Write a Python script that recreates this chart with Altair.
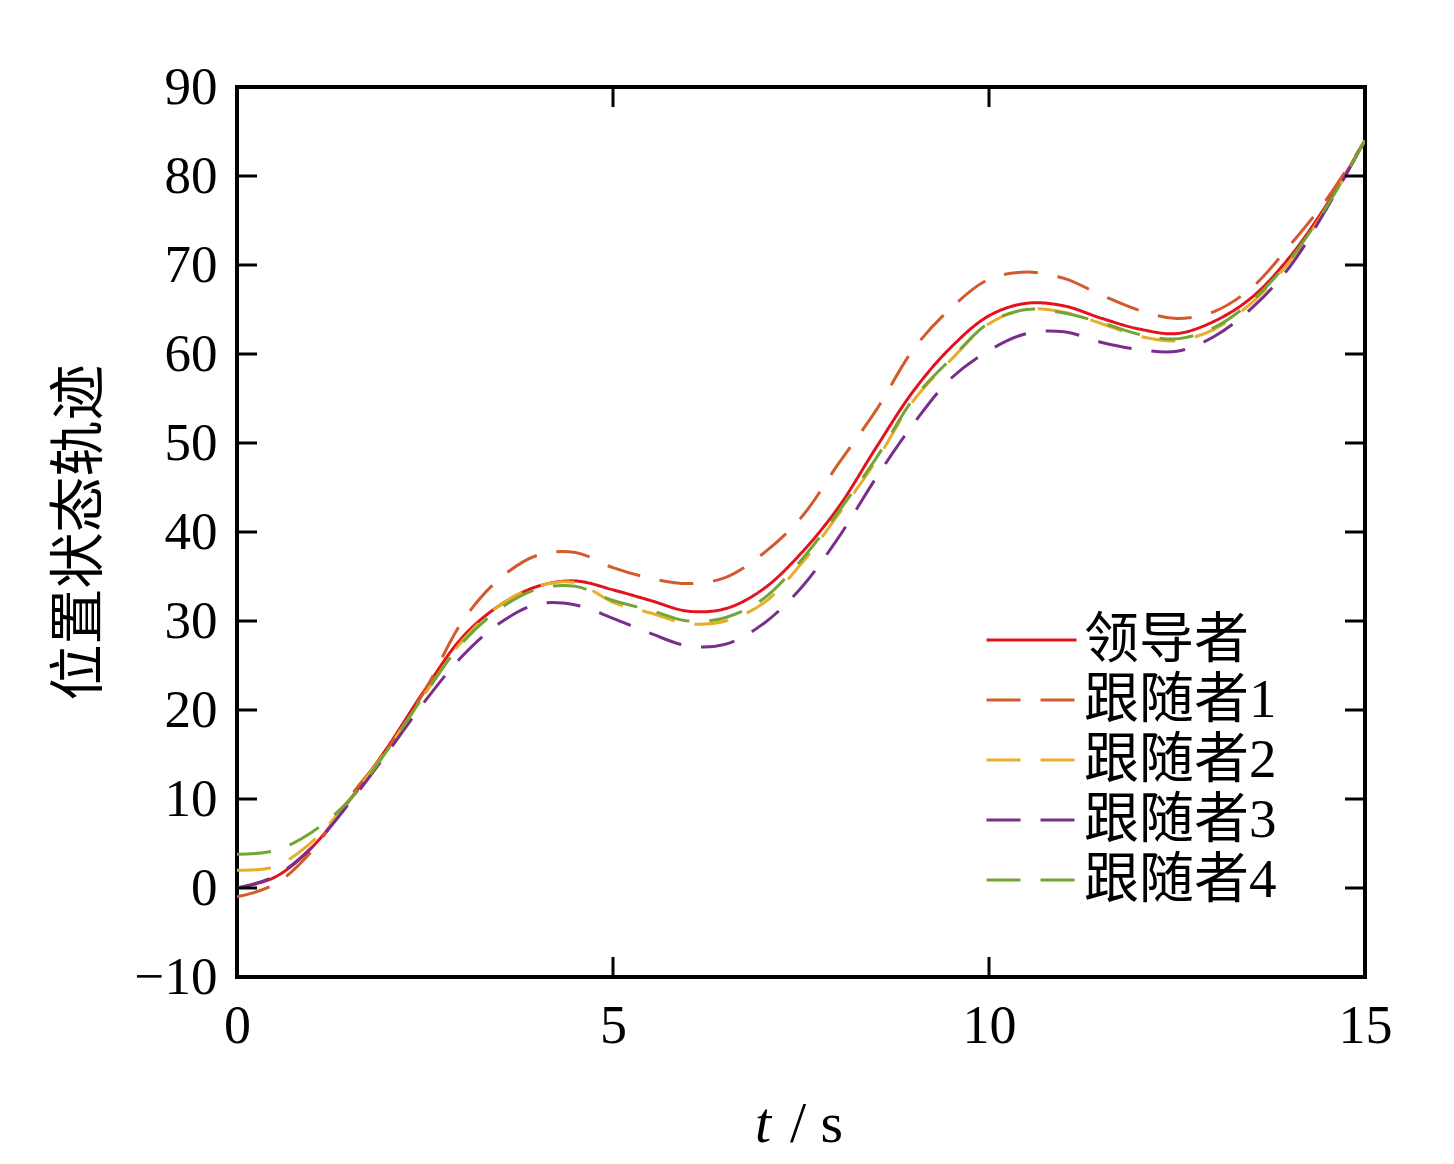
import altair as alt
import pandas as pd

# time samples (s)
t = [0, 0.5, 1, 1.5, 2, 2.5, 3, 3.5, 4, 4.5, 5, 5.5, 6, 6.5, 7, 7.5, 8, 8.5,
     9, 9.5, 10, 10.5, 11, 11.5, 12, 12.5, 13, 13.5, 14, 14.5, 15]

series_names = ["领导者", "跟随者1", "跟随者2", "跟随者3", "跟随者4"]

leader = [0.0, 1.2, 4.6, 9.9, 15.8, 22.3, 28.2, 31.8, 33.9, 34.5, 33.5, 32.3, 31.1, 31.4,
          33.6, 37.6, 42.8, 49.5, 55.9, 60.8, 64.3, 65.7, 65.4, 64.0, 62.8, 62.3, 63.7,
          66.4, 70.9, 76.9, 84.0]
follower1 = [-1.0, 0.4, 4.2, 10.2, 15.6, 22.2, 30.0, 34.8, 37.4, 37.7, 36.0, 34.8, 34.2, 34.9,
             37.6, 41.6, 47.7, 53.7, 60.6, 65.2, 68.4, 69.2, 68.5, 66.6, 64.9, 64.0, 64.8,
             67.5, 72.2, 77.5, 84.0]
follower2 = [2.0, 2.4, 5.2, 10.0, 15.6, 21.8, 27.8, 31.8, 33.9, 34.3, 32.1, 30.9, 29.7, 30.0,
             32.0, 36.4, 42.0, 48.0, 54.8, 59.4, 63.4, 65.0, 64.7, 63.4, 62.0, 61.5, 62.8,
             65.8, 70.4, 76.6, 84.0]
follower3 = [0.0, 1.3, 4.6, 9.6, 15.2, 21.0, 26.1, 29.8, 31.9, 31.8, 30.3, 28.6, 27.2, 27.4,
             29.7, 33.7, 39.4, 46.1, 52.2, 57.3, 60.4, 62.3, 62.5, 61.3, 60.5, 60.3, 62.0,
             65.2, 69.8, 76.5, 84.0]
follower4 = [3.8, 4.2, 6.3, 9.9, 15.5, 21.8, 27.6, 31.4, 33.6, 33.9, 32.3, 31.2, 30.0, 30.4,
             32.5, 36.8, 42.3, 48.3, 55.0, 59.5, 63.5, 65.0, 64.6, 63.5, 62.2, 61.7, 63.0,
             66.0, 70.6, 76.7, 84.0]

x_ticks_inner = [5, 10]
y_ticks_inner = [0, 10, 20, 30, 40, 50, 60, 70, 80]

colors = ["#E3121C", "#D35A2C", "#E8AE2A", "#7A2E8C", "#72A634"]
dashes = [[1, 0], [34, 20], [34, 20], [34, 20], [34, 20]]

W, H = 1128, 890
SERIF = "Liberation Serif, Noto Sans CJK SC"

rows = []
for name, vals in zip(series_names, [leader, follower1, follower2, follower3, follower4]):
    for ti, yi in zip(t, vals):
        rows.append({"t": ti, "y": yi, "series": name})
df = pd.DataFrame(rows)

xscale = alt.Scale(domain=[0, 15], nice=False, zero=False)
yscale = alt.Scale(domain=[-10, 90], nice=False, zero=False)

xaxis = alt.Axis(values=[0, 5, 10, 15], ticks=False, domain=False, grid=False,
                 labelFont=SERIF, labelFontSize=54, labelColor="black",
                 labelPadding=22, title=None, labelFlush=False)
yaxis = alt.Axis(values=list(range(-10, 100, 10)), ticks=False, domain=False, grid=False,
                 labelFont=SERIF, labelFontSize=53, labelColor="black",
                 labelPadding=20, labelFlush=False,
                 title="位置状态轨迹", titleFont="Noto Sans CJK SC",
                 titleFontSize=56, titleFontWeight="normal", titleColor="black",
                 titlePadding=26)

lines = alt.Chart(df).mark_line(strokeWidth=3, interpolate="catmull-rom", clip=True).encode(
    x=alt.X("t:Q", scale=xscale, axis=xaxis),
    y=alt.Y("y:Q", scale=yscale, axis=yaxis),
    color=alt.Color("series:N", scale=alt.Scale(domain=series_names, range=colors),
                    legend=alt.Legend(title=None)),
    strokeDash=alt.StrokeDash("series:N", scale=alt.Scale(domain=series_names, range=dashes),
                              legend=alt.Legend(title=None)),
    order=alt.Order("series:N"),
)

xt = pd.DataFrame({"t": x_ticks_inner})
yt = pd.DataFrame({"y": y_ticks_inner})

tick_bottom = alt.Chart(xt).mark_rule(color="black", strokeWidth=3).encode(
    x=alt.X("t:Q", scale=xscale, axis=xaxis), y=alt.value(H), y2=alt.value(H - 20))
tick_top = alt.Chart(xt).mark_rule(color="black", strokeWidth=3).encode(
    x=alt.X("t:Q", scale=xscale, axis=xaxis), y=alt.value(0), y2=alt.value(20))
tick_left = alt.Chart(yt).mark_rule(color="black", strokeWidth=3).encode(
    y=alt.Y("y:Q", scale=yscale, axis=yaxis), x=alt.value(0), x2=alt.value(20))
tick_right = alt.Chart(yt).mark_rule(color="black", strokeWidth=3).encode(
    y=alt.Y("y:Q", scale=yscale, axis=yaxis), x=alt.value(W), x2=alt.value(W - 20))

one = pd.DataFrame({"a": [0]})
title_t = alt.Chart(one).mark_text(text="t", font=SERIF, fontSize=58, fontStyle="italic",
                                   align="left", baseline="middle", color="black").encode(
    x=alt.value(518), y=alt.value(H + 148))
title_s = alt.Chart(one).mark_text(text="/ s", font=SERIF, fontSize=58,
                                   align="left", baseline="middle", color="black").encode(
    x=alt.value(553), y=alt.value(H + 148))

chart = alt.layer(lines, tick_bottom, tick_top, tick_left, tick_right, title_t, title_s).properties(
    width=W, height=H,
    autosize=alt.AutoSizeParams(type="none"),
    padding={"left": 229, "top": 79, "right": 70, "bottom": 178},
).configure_view(
    stroke="black", strokeWidth=4
).configure_legend(
    orient="none", legendX=748, legendY=523, padding=0,
    symbolType="stroke", symbolSize=8100, symbolStrokeWidth=3,
    labelFont=SERIF, labelFontSize=55, labelColor="black", labelOffset=6,
    rowPadding=0, clipHeight=60, labelLimit=400,
)

chart.save("out.html", embed_options={"renderer": "svg", "actions": False})
